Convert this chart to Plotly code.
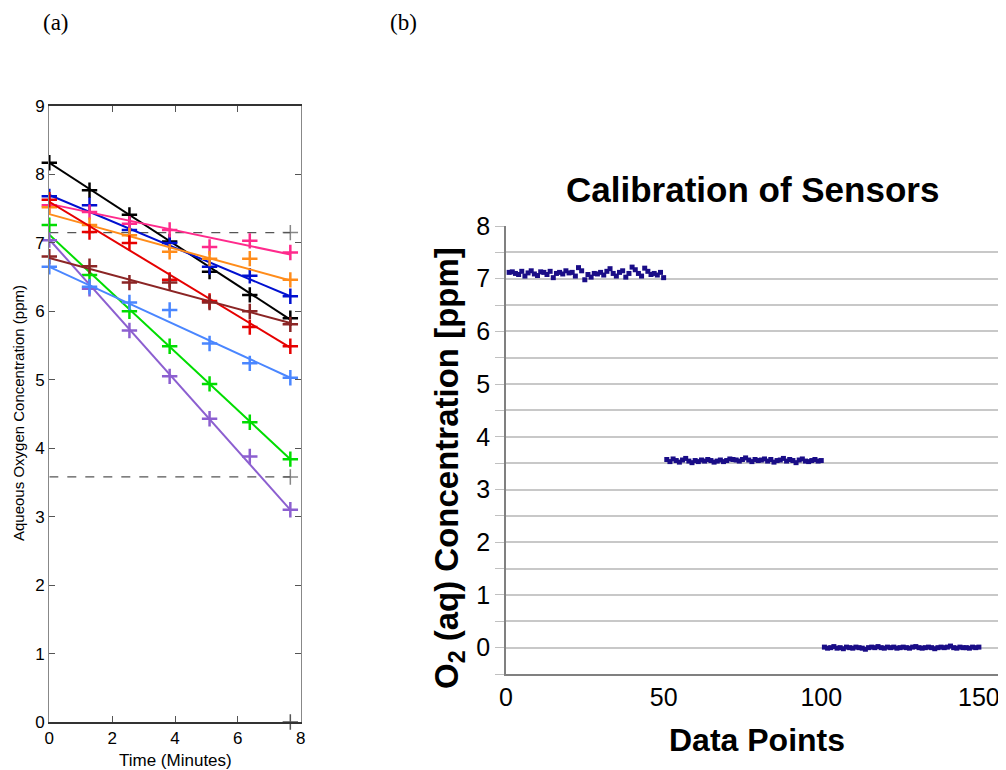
import plotly.graph_objects as go

# ---- panel (a): dissolved oxygen vs time ----
times = [0, 1.28, 2.55, 3.83, 5.1, 6.38, 7.67]

series_names = ["black", "blue", "pink", "orange", "red", "green", "purple", "brown", "lightblue"]
series_colors = ["#000000", "#0010d0", "#ff2a8c", "#ff8c1a", "#e60000", "#00dd00", "#8c5fd0", "#8b2525", "#4a86ff"]
measured = [
    [8.17, 7.77, 7.41, 7.02, 6.58, 6.24, 5.90],
    [7.68, 7.55, 7.19, 7.00, 6.65, 6.52, 6.22],
    [7.55, 7.45, 7.28, 7.19, 6.94, 7.03, 6.86],
    [7.52, 7.26, 7.11, 6.87, 6.77, 6.77, 6.46],
    [7.63, 7.16, 7.00, 6.46, 6.15, 5.77, 5.49],
    [7.26, 6.53, 6.00, 5.49, 4.94, 4.38, 3.84],
    [7.04, 6.33, 5.72, 5.05, 4.43, 3.88, 3.10],
    [6.80, 6.66, 6.42, 6.42, 6.13, 6.00, 5.81],
    [6.65, 6.36, 6.13, 6.02, 5.53, 5.24, 5.03],
]
# fitted line end points (value at first and last time)
fit_start = [8.17, 7.70, 7.57, 7.42, 7.60, 7.12, 7.05, 6.78, 6.65]
fit_end = [5.88, 6.22, 6.83, 6.45, 5.47, 3.84, 3.10, 5.83, 5.03]

ref_levels = [7.15, 3.58]   # dashed reference lines
ref_zero = 0.0              # zero reference (only its end cross shows)

# ---- panel (b): sensor calibration ----
point_idx_high = list(range(1, 51))
point_idx_mid = list(range(51, 101))
point_idx_low = list(range(101, 151))
cal_high = [7.12, 7.13, 7.10, 7.08, 7.14, 7.05, 7.11, 7.15, 7.09, 7.06,
            7.13, 7.12, 7.08, 7.14, 7.02, 7.10, 7.12, 7.09, 7.15, 7.11,
            7.12, 7.05, 7.21, 7.15, 6.98, 7.08, 7.03, 7.10, 7.09, 7.12,
            7.07, 7.14, 7.19, 7.10, 7.05, 7.12, 7.15, 7.03, 7.10, 7.22,
            7.17, 7.10, 7.05, 7.20, 7.14, 7.08, 7.10, 7.07, 7.12, 7.02]
cal_mid = [3.57, 3.53, 3.58, 3.55, 3.52, 3.56, 3.59, 3.54, 3.51, 3.55,
           3.53, 3.56, 3.54, 3.57, 3.55, 3.52, 3.54, 3.56, 3.53, 3.55,
           3.58, 3.57, 3.56, 3.54, 3.57, 3.60, 3.56, 3.53, 3.57, 3.55,
           3.56, 3.58, 3.54, 3.57, 3.52, 3.55, 3.56, 3.59, 3.54, 3.57,
           3.55, 3.51, 3.56, 3.58, 3.54, 3.53, 3.55, 3.57, 3.54, 3.55]
cal_low = [0.01, -0.01, 0.00, 0.02, -0.01, 0.00, -0.02, 0.01, 0.00, -0.01,
           0.01, 0.00, -0.01, -0.03, 0.00, 0.01, 0.00, 0.02, 0.00, -0.01,
           0.01, 0.00, 0.01, -0.01, 0.00, 0.01, 0.00, -0.01, 0.01, 0.02,
           0.00, -0.01, 0.00, 0.01, 0.00, -0.02, 0.00, 0.01, 0.00, 0.01,
           0.03, 0.00, -0.01, 0.01, 0.00, 0.00, -0.01, 0.01, 0.00, 0.01]

W, H = 1006, 770
OFF = 8  # page body margin shifts the figure by 8px


def fx(x):
    return (x - OFF) / W


def fy(y):
    return 1 - (y - OFF) / H


fig = go.Figure()

# reference dashed lines with a cross at the end
for lvl in ref_levels:
    fig.add_trace(go.Scatter(
        x=[times[0], times[-1]], y=[lvl, lvl], mode="lines+markers",
        line=dict(color="#555555", width=1.2, dash="dash"),
        marker=dict(symbol="cross-thin", size=[0, 11], line=dict(color="#555555", width=1.5)),
        xaxis="x", yaxis="y", showlegend=False, hoverinfo="skip", cliponaxis=False))
fig.add_trace(go.Scatter(
    x=[times[-1]], y=[ref_zero], mode="markers",
    marker=dict(symbol="cross-thin", size=11, line=dict(color="#555555", width=1.5)),
    xaxis="x", yaxis="y", showlegend=False, hoverinfo="skip", cliponaxis=False))

for name, col, vals, a, b in zip(series_names, series_colors, measured, fit_start, fit_end):
    fig.add_trace(go.Scatter(
        x=[times[0], times[-1]], y=[a, b], mode="lines",
        line=dict(color=col, width=2), xaxis="x", yaxis="y",
        showlegend=False, name=name + " fit"))
    fig.add_trace(go.Scatter(
        x=times, y=vals, mode="markers",
        marker=dict(symbol="cross-thin", size=11, line=dict(color=col, width=2.5)),
        xaxis="x", yaxis="y", showlegend=False, name=name, cliponaxis=False))

for xs, ys in [(point_idx_high, cal_high), (point_idx_mid, cal_mid), (point_idx_low, cal_low)]:
    fig.add_trace(go.Scatter(
        x=xs, y=ys, mode="markers",
        marker=dict(symbol="square", size=5, color="#1a0d87"),
        xaxis="x2", yaxis="y2", showlegend=False))

ticks_b = [v / 2 for v in range(-1, 17)]
ticks_b_text = [str(int(v)) if v >= 0 and v == int(v) else " " for v in ticks_b]


def note(text, x, y, size, family="Arial, Liberation Sans, sans-serif", angle=0):
    return dict(text=text, x=fx(x), y=fy(y), xref="paper", yref="paper", showarrow=False,
                xanchor="center", yanchor="middle", textangle=angle,
                font=dict(family=family, size=size, color="black"))


fig.update_layout(
    width=W, height=H,
    margin=dict(l=0, r=0, t=0, b=0, autoexpand=False),
    paper_bgcolor="white", plot_bgcolor="white",
    font=dict(family="Arial, Liberation Sans, sans-serif", color="black"),
    xaxis=dict(domain=[fx(49.3), fx(300.7)], range=[0, 8], tickvals=[0, 2, 4, 6, 8],
               ticks="inside", ticklen=6, tickcolor="#555", showgrid=False, zeroline=False,
               showline=True, linecolor="#333", linewidth=1.5, mirror="ticks",
               tickfont=dict(size=17), automargin=False),
    yaxis=dict(domain=[fy(722), fy(106)], range=[0, 9], tickvals=list(range(10)),
               ticks="inside", ticklen=6, tickcolor="#555", showgrid=False, zeroline=False,
               showline=True, linecolor="#888", linewidth=1.2, mirror="ticks",
               tickfont=dict(size=17), automargin=False),
    xaxis2=dict(domain=[fx(506), fx(1006)], range=[0, 158.6], tickvals=[0, 50, 100, 150],
                ticks="", showgrid=False, zeroline=False,
                showline=True, linecolor="#808080", linewidth=2,
                tickfont=dict(size=25), anchor="y2", automargin=False),
    yaxis2=dict(domain=[fy(674), fy(226)], range=[-0.5, 8], tickvals=ticks_b, ticktext=ticks_b_text,
                ticks="outside", ticklen=9, tickcolor="#c0c0c0",
                showgrid=True, gridcolor="#c8c8c8", gridwidth=1.5, zeroline=False,
                showline=True, linecolor="#808080", linewidth=1.5,
                tickfont=dict(size=25), anchor="x2", automargin=False),
    annotations=[
        note("(a)", 56, 22, 23, family="Liberation Serif, serif"),
        note("(b)", 403, 22, 23, family="Liberation Serif, serif"),
        note("<b>Calibration of Sensors</b>", 752, 190, 35),
        note("Time (Minutes)", 175, 760, 17),
        note("Aqueous Oxygen Concentration (ppm)", 18, 413, 15, angle=-90),
        note("<b>Data Points</b>", 757, 740, 32),
        note("<b>O<sub>2</sub> (aq) Concentration [ppm]</b>", 449, 468, 33, angle=-90),
    ],
)

fig.write_html("out.html")
